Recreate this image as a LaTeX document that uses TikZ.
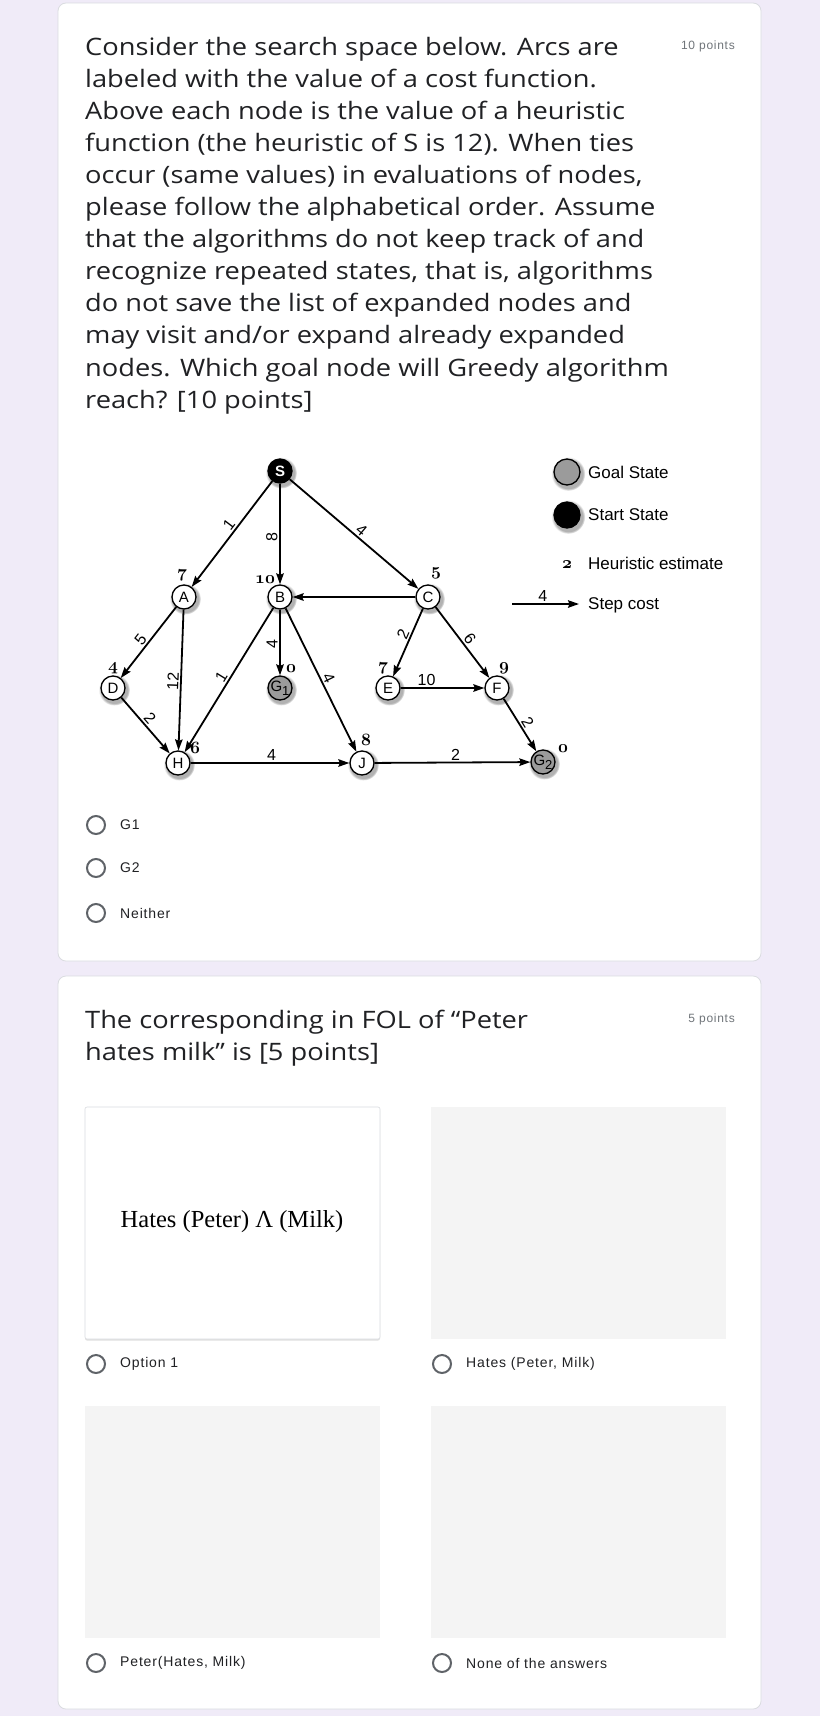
\documentclass[tikz,border=0pt]{standalone}
\usepackage{fontspec}
\setmainfont{Open Sans}[FakeStretch=1.135]
\newfontfamily\helvfont{Liberation Sans}
\newfontfamily\serifont{Liberation Serif}
\newfontfamily\optfont[LetterSpace=6]{Liberation Sans}
\usetikzlibrary{arrows.meta,shadows,fadings}
\definecolor{pagebg}{RGB}{240,235,248}
\definecolor{cardline}{RGB}{218,220,224}
\definecolor{subtext}{RGB}{112,117,122}
\definecolor{ink}{RGB}{32,33,36}
\definecolor{radiogrey}{RGB}{95,99,104}
\definecolor{goalfill}{RGB}{155,155,155}
\definecolor{imgfill}{RGB}{244,244,244}
\newcommand\hfnt{\fontsize{17.28}{17.28}\usefont{OML}{cmm}{b}{it}}
\tikzset{
  card/.style={fill=white, draw=cardline, line width=0.8pt, rounded corners=8pt},
  qline/.style={anchor=base west, inner sep=0pt, text=ink, font=\fontsize{24}{24}\selectfont},
  pts/.style={anchor=base east, inner sep=0pt, text=subtext, font=\optfont\fontsize{12}{12}\selectfont},
  gnode/.style={circle, draw=black, line width=1.3pt, fill=white, minimum size=24pt, inner sep=0pt,
    font=\helvfont\fontsize{15}{15}\selectfont,
    circular drop shadow={shadow scale=1.3, shadow xshift=1pt, shadow yshift=-1.5pt, opacity=0.6}},
  startnode/.style={gnode, fill=black, text=white},
  goalnode/.style={gnode, fill=goalfill},
  arcline/.style={line width=1.8pt, -{Stealth[length=11pt,width=7.5pt,inset=1.5pt]}},
  cost/.style={font=\helvfont\fontsize{16}{16}\selectfont, inner sep=1.5pt},
  heur/.style={font=\hfnt, inner sep=0pt},
  legtext/.style={anchor=west, inner sep=0pt, font=\helvfont\fontsize{17}{17}\selectfont},
  radiobtn/.style={circle, draw=radiogrey, line width=2pt, minimum size=18pt, inner sep=0pt},
  opt/.style={anchor=west, inner sep=0pt, text=ink, font=\optfont\fontsize{14}{14}\selectfont},
  imgbox/.style={fill=imgfill, draw=none},
}
\begin{document}
\begin{tikzpicture}[x=1pt,y=-1pt]
\useasboundingbox (0,0) rectangle (820,1716);
\fill[pagebg] (0,0) rectangle (820,1716);

% ---------- card 1 ----------
\draw[card] (58,3) rectangle (761,961);
\foreach \ln [count=\i] in {
 {Consider the search space below. Arcs are},
 {labeled with the value of a cost function.},
 {Above each node is the value of a heuristic},
 {function (the heuristic of S is 12). When ties},
 {occur (same values) in evaluations of nodes,},
 {please follow the alphabetical order. Assume},
 {that the algorithms do not keep track of and},
 {recognize repeated states, that is, algorithms},
 {do not save the list of expanded nodes and},
 {may visit and/or expand already expanded},
 {nodes. Which goal node will Greedy algorithm},
 {reach? [10 points]}}
  \node[qline] (q1l\i) at (85,{55+32.1*(\i-1)}) {\ln};
\node[pts] (q1pts) at (735,49) {10 points};

% graph nodes
\node[startnode, font=\helvfont\bfseries\fontsize{15}{15}\selectfont] (S) at (280,471) {S};
\node[gnode] (A) at (184,597) {A};
\node[gnode] (B) at (280,597) {B};
\node[gnode] (C) at (428,597) {C};
\node[gnode] (D) at (113,688) {D};
\node[goalnode] (G1) at (280,688) {G\raisebox{-4pt}{\fontsize{13}{13}\selectfont 1}};
\node[gnode] (E) at (388,688) {E};
\node[gnode] (F) at (497,688) {F};
\node[gnode] (H) at (178,763) {H};
\node[gnode] (J) at (362,763) {J};
\node[goalnode] (G2) at (543,762) {G\raisebox{-4pt}{\fontsize{13}{13}\selectfont 2}};

% heuristic values
\node[heur] (hA) at (182,575) {7};
\node[heur] (hB) at (265,580) {10};
\node[heur] (hC) at (436,573) {5};
\node[heur] (hD) at (113,668) {4};
\node[heur] (hG1) at (291,669) {0};
\node[heur] (hE) at (383,668) {7};
\node[heur] (hF) at (504,668) {9};
\node[heur] (hH) at (195,748) {6};
\node[heur] (hJ) at (366,740) {8};
\node[heur] (hG2) at (563,749) {0};

% arcs
\draw[arcline] (S) -- node[cost, sloped, above, pos=0.46] (cSA) {1} (A);
\draw[arcline] (S) -- node[cost, rotate=90, above, pos=0.53] (cSB) {8} (B);
\draw[arcline] (S) -- node[cost, sloped, above, pos=0.52] (cSC) {4} (C);
\draw[arcline] (C) -- (B);
\draw[arcline] (A) -- node[cost, sloped, above, pos=0.53] (cAD) {5} (D);
\draw[arcline] (A) -- node[cost, sloped, above, pos=0.51] (cAH) {12} (H);
\draw[arcline] (D) -- node[cost, sloped, above, pos=0.47] (cDH) {2} (H);
\draw[arcline] (B) -- node[cost, sloped, above, pos=0.51] (cBH) {1} (H);
\draw[arcline] (B) -- node[cost, rotate=90, above, pos=0.52] (cBG) {4} (G1);
\draw[arcline] (B) -- node[cost, sloped, above, pos=0.51] (cBJ) {4} (J);
\draw[arcline] (C) -- node[cost, sloped, above, pos=0.42] (cCE) {2} (E);
\draw[arcline] (C) -- node[cost, sloped, above, pos=0.52] (cCF) {6} (F);
\draw[arcline] (E) -- node[cost, above, pos=0.31] (cEF) {10} (F);
\draw[arcline] (F) -- node[cost, sloped, above, pos=0.53] (cFG) {2} (G2);
\draw[arcline] (H) -- node[cost, above, pos=0.51] (cHJ) {4} (J);
\draw[arcline] (J) -- node[cost, above, pos=0.52] (cJG) {2} (G2);

% legend
\node[goalnode, minimum size=26pt] (lgoal) at (567,472) {};
\node[legtext] (lgoalt) at (588,472) {Goal State};
\node[startnode, minimum size=26pt] (lstart) at (567,515) {};
\node[legtext] (lstartt) at (588,515) {Start State};
\node[heur] (lheur) at (567,565) {2};
\node[legtext] (lheurt) at (588,563) {Heuristic estimate};
\coordinate (sc1) at (512,604);
\coordinate (sc2) at (579,604);
\draw[arcline] (sc1) -- node[cost, above, pos=0.46] (lcost) {4} (sc2);
\node[legtext] (lcostt) at (588,605) {Step cost};

% options Q1
\node[radiobtn] (r1) at (96,825) {};
\node[opt] (o1) at (120,825) {G1};
\node[radiobtn] (r2) at (96,868) {};
\node[opt] (o2) at (120,868) {G2};
\node[radiobtn] (r3) at (96,913) {};
\node[opt] (o3) at (120,913) {Neither};

% ---------- card 2 ----------
\draw[card] (58,976) rectangle (761,1709);
\node[qline] (q2l1) at (85,1028) {The corresponding in FOL of “Peter};
\node[qline] (q2l2) at (85,1060) {hates milk” is [5 points]};
\node[pts] (q2pts) at (735,1022) {5 points};

\draw[fill=white, draw=cardline, line width=0.6pt, rounded corners=2pt,
  drop shadow={opacity=0.25, shadow xshift=0pt, shadow yshift=-1.5pt}] (85,1107) rectangle (380,1339);
\node[inner sep=0pt, font=\serifont\fontsize{24.5}{24.5}\selectfont, text=black] (img1) at (232,1222) {Hates (Peter) Λ (Milk)};
\fill[imgfill] (431,1107) rectangle (726,1339);
\fill[imgfill] (85,1406) rectangle (380,1638);
\fill[imgfill] (431,1406) rectangle (726,1638);

\node[radiobtn] (r4) at (96,1364) {};
\node[opt] (o4) at (120,1364) {Option 1};
\node[radiobtn] (r5) at (442,1364) {};
\node[opt] (o5) at (466,1364) {Hates (Peter, Milk)};
\node[radiobtn] (r6) at (96,1663) {};
\node[opt] (o6) at (120,1663) {Peter(Hates, Milk)};
\node[radiobtn] (r7) at (442,1663) {};
\node[opt] (o7) at (466,1663) {None of the answers};
\end{tikzpicture}
\end{document}
